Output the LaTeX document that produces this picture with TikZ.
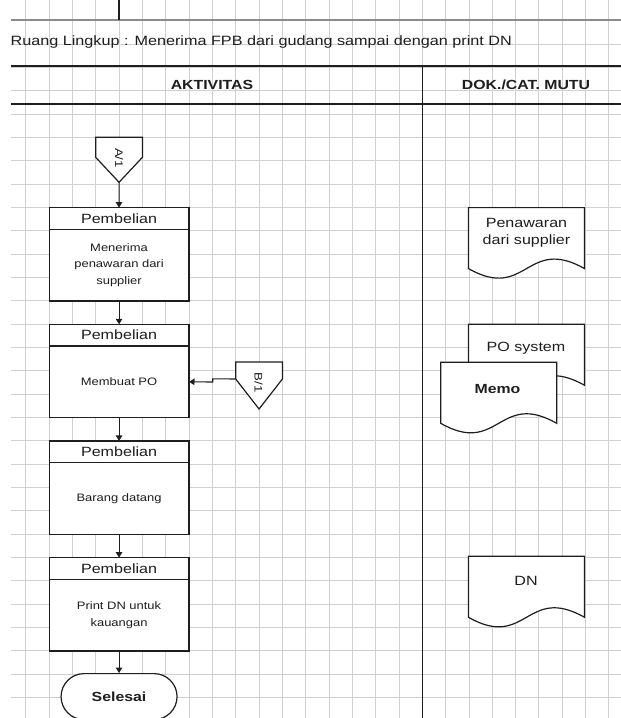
\documentclass[tikz,border=0pt]{standalone}
\usepackage{fontspec}
\setmainfont[FakeStretch=1.2]{Liberation Sans}
\usetikzlibrary{arrows.meta}
\definecolor{gridc}{HTML}{D0D0D0}
\definecolor{ink}{HTML}{1E1E1E}
\definecolor{topl}{HTML}{8C8C8C}
\newcommand{\docshape}[5]{% name, x, y, w, h
  \filldraw[docst] (#2,#3) -- ({#2+#4},#3) -- ({#2+#4},{#3+#5})
    .. controls ({#2+0.5*#4},{#3+#5-33}) and ({#2+0.5*#4},{#3+#5+33}) .. (#2,{#3+#5}) -- cycle;
  \coordinate (#1) at ({#2+0.5*#4},#3);}
\newcommand{\offpage}[6]{% name, x, y, w, s, h
  \filldraw[shp] (#2,#3) -- ({#2+#4},#3) -- ({#2+#4},{#3+#5}) -- ({#2+0.5*#4},{#3+#6}) -- (#2,{#3+#5}) -- cycle;
  \coordinate (#1) at ({#2+0.5*#4},{#3+#6});
  \coordinate (#1w) at (#2,{#3+#5});}
\begin{document}
\begin{tikzpicture}[x=1pt,y=-1pt,
  gridl/.style={draw=gridc, line width=1pt},
  heavy/.style={draw=ink, line width=1.7pt},
  shp/.style={draw=ink, fill=white, line width=1.2pt},
  docst/.style={draw=ink, fill=white, line width=1.2pt},
  big/.style={font=\fontsize{13.4}{16.7}\selectfont, text=ink, align=center, inner sep=0pt},
  hdfont/.style={font=\bfseries\fontsize{13.2}{16}\selectfont, text=ink, inner sep=0pt},
  small/.style={font=\fontsize{10.8}{16.3}\selectfont, text=ink, align=center},
  conn/.style={font=\fontsize{11}{13}\selectfont, text=ink, rotate=-90, inner sep=0pt},
  hbox/.style={shp, minimum width=139.9pt, minimum height=21.7pt, inner sep=0pt, outer sep=0pt,
    font=\fontsize{13.4}{16}\selectfont, text=ink},
  bbox/.style={shp, minimum width=139.9pt, minimum height=71.6pt, inner sep=0pt, outer sep=0pt,
    font=\fontsize{10.8}{16.3}\selectfont, text=ink, align=center},
  term/.style={shp, rounded corners=23pt, minimum width=116pt, minimum height=46pt,
    inner sep=0pt, font=\fontsize{13.2}{16}\selectfont\bfseries, text=ink},
  arr/.style={draw=ink, line width=1.1pt, -{Triangle[width=6.5pt,length=5.5pt]}}]
\useasboundingbox (0,0) rectangle (621,718);
\clip (0,0) rectangle (621,718);
\fill[white] (0,0) rectangle (621,718);
% grid
\foreach \i in {1,...,26} \draw[gridl] ({2.4+23.33*\i},0) -- ({2.4+23.33*\i},718);
\foreach \j in {1,...,29} \draw[gridl] (11,{21+23.33*\j}) -- (621,{21+23.33*\j});
\draw[draw=topl, line width=1.3pt] (11,20) -- (621,20);
\draw[draw=ink, line width=1.2pt] (119.05,0) -- (119.05,20);
% title and headers
\node[big, anchor=west, font=\fontsize{13.5}{16}\selectfont] (title) at (10.4,42.3) {Ruang Lingkup : Menerima FPB dari gudang sampai dengan print DN};
\draw[heavy] (11,66) -- (621,66);
\draw[heavy] (11,104) -- (621,104);
\draw[heavy] (422.4,66) -- (422.4,718);
\node[hdfont] (hA) at (212,85) {AKTIVITAS};
\node[hdfont] (hD) at (526,85) {DOK./CAT. MUTU};
% connector A/1
\offpage{A1}{95.7}{137.3}{46.7}{20}{45}
\node[conn] (A1t) at (119.05,158) {A/1};
% boxes
\node[hbox, anchor=north] (h1) at (119.05,207.6) {Pembelian};
\node[bbox, anchor=north] (m1) at (h1.south) {Menerima\\penawaran dari\\supplier};
\node[hbox, anchor=north] (h2) at (119.05,324.3) {Pembelian};
\node[bbox, anchor=north] (m2) at (h2.south) {Membuat PO};
\node[hbox, anchor=north] (h3) at (119.05,440.9) {Pembelian};
\node[bbox, anchor=north] (m3) at (h3.south) {Barang datang};
\node[hbox, anchor=north] (h4) at (119.05,557.6) {Pembelian};
\node[bbox, anchor=north] (m4) at (h4.south) {Print DN untuk\\kauangan};
\node[term, anchor=north] (end) at (119.05,673) {Selesai};
% connector B/1
\offpage{B1}{235.7}{362}{46.7}{17}{47}
\node[conn] (B1t) at (258.5,382.5) {B/1};
\coordinate (bj1) at (212.7,378.8);
\coordinate (bj2) at (212.7,382);
% arrows
\draw[arr] (A1) -- (h1.north);
\draw[arr] (m1.south) -- (h2.north);
\draw[arr] (m2.south) -- (h3.north);
\draw[arr] (m3.south) -- (h4.north);
\draw[arr] (m4.south) -- (end.north);
\draw[arr] (B1w) -- (bj1) -- (bj2) -- (m2.east);
% documents
\docshape{D1}{468.5}{207.6}{116}{61}
\node[big] (D1t) at (526.5,233) {Penawaran\\dari supplier};
\docshape{D2}{468.5}{324.3}{116}{61}
\node[big] (D2t) at (526,348.5) {PO system};
\docshape{D3}{440.7}{362.3}{116}{61}
\node[big, font=\bfseries\fontsize{13.2}{16}\selectfont] (D3t) at (497.5,389) {Memo};
\docshape{D4}{468.5}{556.3}{116}{61}
\node[big] (D4t) at (526,580.7) {DN};
\end{tikzpicture}
\end{document}
